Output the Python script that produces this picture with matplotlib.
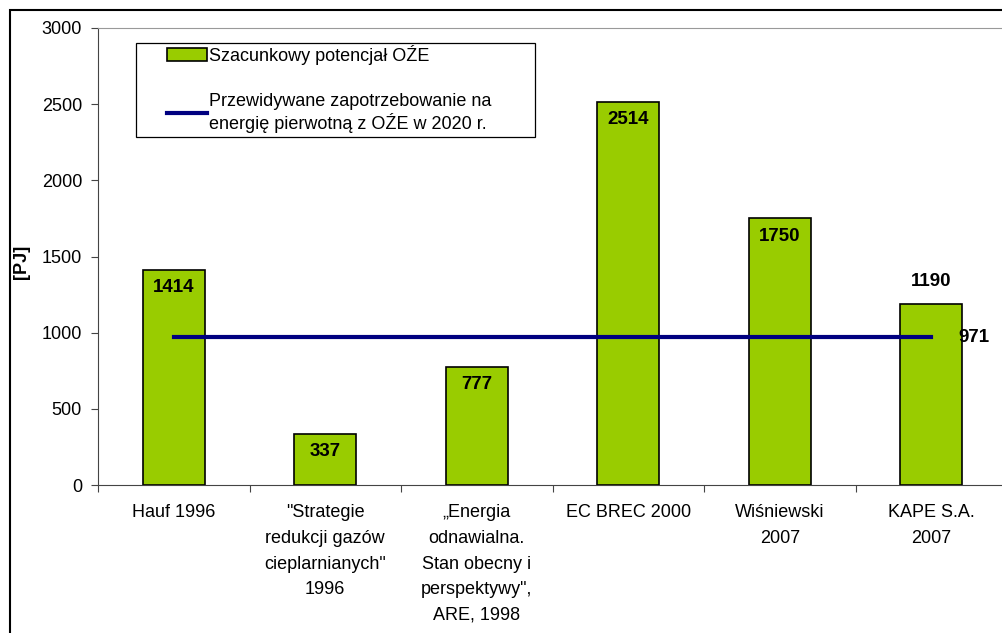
import numpy as np
import matplotlib.pyplot as plt

plt.rcParams['font.family'] = ['Liberation Sans', 'DejaVu Sans']

# data
categories = [
    'Hauf 1996',
    '"Strategie\nredukcji gazów\ncieplarnianych"\n1996',
    '„Energia\nodnawialna.\nStan obecny i\nperspektywy",\nARE, 1998',
    'EC BREC 2000',
    'Wiśniewski\n2007',
    'KAPE S.A.\n2007',
]
potential = [1414, 337, 777, 2514, 1750, 1190]
demand = [971, 971, 971, 971, 971, 971]
bar_label = 'Szacunkowy potencjał OŹE'
line_label = 'Przewidywane zapotrzebowanie na\nenergię pierwotną z OŹE w 2020 r.'

fig = plt.figure(figsize=(10.02, 6.33), dpi=100)

# outer chart frame
frame = plt.Rectangle((10 / 1002, -0.1), 1.2, (633 - 10) / 633 + 0.1,
                      transform=fig.transFigure, fill=False,
                      edgecolor='black', linewidth=1.5)
fig.patches.append(frame)

ax = fig.add_axes([98 / 1002, (633 - 485) / 633, (1007 - 98) / 1002, (485 - 28) / 633])

x = np.arange(len(categories))
bars = ax.bar(x, potential, width=0.41, color='#99CC00', edgecolor='black',
              linewidth=1.2, zorder=2)
line, = ax.plot(x, demand, color='#000080', linewidth=3, zorder=3)

ax.set_xlim(-0.5, len(categories) - 0.5)
ax.set_ylim(0, 3000)
ax.set_yticks(range(0, 3001, 500))
ax.set_xticks(np.arange(len(categories) + 1) - 0.5, minor=False)
ax.set_xticklabels([])
ax.set_xticks(x, minor=True)
ax.set_xticklabels(categories, minor=True, fontsize=13, linespacing=1.66, va='top')
ax.tick_params(axis='x', which='minor', length=0, pad=14)
ax.tick_params(axis='x', which='major', length=5, direction='out', color='#444444')
ax.tick_params(axis='y', length=5, labelsize=13, color='#444444', pad=6.5)

ax.spines['right'].set_visible(False)
ax.spines['top'].set_color('#999999')
ax.spines['left'].set_color('#444444')
ax.spines['bottom'].set_color('#444444')

ax.set_ylabel('[PJ]', fontsize=13, fontweight='bold')
ax.yaxis.set_label_coords(-68 / 909, (485 - 262) / 457)

# value labels
for i, v in enumerate(potential):
    if i == len(potential) - 1:
        ax.text(i, v + 90, str(v), ha='center', va='bottom', fontsize=13.5, fontweight='bold')
    else:
        ax.text(i, v - 60, str(v), ha='center', va='top', fontsize=13.5, fontweight='bold')
ax.text(x[-1] + 0.18, demand[-1], str(demand[-1]), ha='left', va='center',
        fontsize=13.5, fontweight='bold')

# legend box drawn separately so the padding can match the original
legend_box = plt.Rectangle(((136 - 98) / 909, (485 - 137) / 457), (535 - 136) / 909, 94 / 457,
                           transform=ax.transAxes, facecolor='white', edgecolor='black',
                           linewidth=0.9, zorder=4, clip_on=False)
ax.add_patch(legend_box)
leg = ax.legend([bars, line], [bar_label, line_label],
                loc='upper left', bbox_to_anchor=((167 - 98) / 909, (485 - 45) / 457),
                fontsize=13, frameon=False, handlelength=2.2, handletextpad=0.15,
                labelspacing=1.55, borderpad=0, borderaxespad=0)
leg.set_zorder(5)

fig.savefig('out.png', dpi=100)
